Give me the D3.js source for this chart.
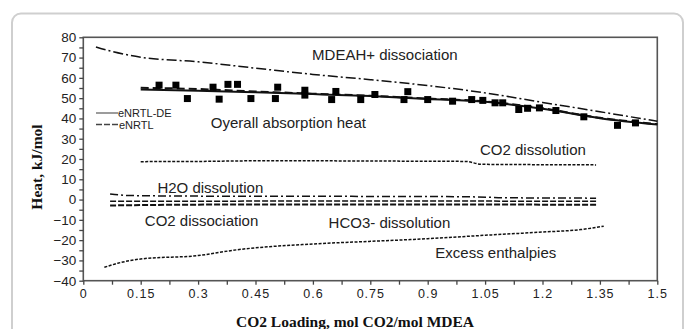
<!DOCTYPE html>
<html>
<head>
<meta charset="utf-8">
<script src="https://cdn.jsdelivr.net/npm/d3@7"></script>
<style>
  html, body { margin: 0; padding: 0; background: #fff; }
  svg { display: block; }
  .tick text { font-family: Arial, "Liberation Sans", sans-serif; fill: #222; }
  .note { font-family: Arial, "Liberation Sans", sans-serif; font-size: 15px; fill: #222; }
  .title { font-family: "Times New Roman", "Liberation Serif", serif; font-weight: bold; font-size: 15.5px; fill: #111; }
</style>
</head>
<body>
<svg id="chart" width="685" height="329"></svg>
<script>
// Axis ticks
const loadingTicks = [0, 0.15, 0.3, 0.45, 0.6, 0.75, 0.9, 1.05, 1.2, 1.35, 1.5];
const loadingTickLabels = ["0", "0.15", "0.3", "0.45", "0.6", "0.75", "0.9", "1.05", "1.2", "1.35", "1.5"];
const heatTicks = [-40, -30, -20, -10, 0, 10, 20, 30, 40, 50, 60, 70, 80];

// Experimental overall heat of absorption (squares)
const expLoading = [0.198, 0.242, 0.272, 0.339, 0.355, 0.378, 0.403, 0.438, 0.502, 0.508,
                    0.579, 0.579, 0.649, 0.660, 0.725, 0.762, 0.838, 0.848, 0.900, 0.965,
                    1.015, 1.044, 1.076, 1.096, 1.138, 1.161, 1.192, 1.235, 1.308, 1.396, 1.443];
const expHeat = [56.4, 56.4, 49.8, 55.4, 49.5, 56.8, 56.8, 49.8, 49.8, 55.4,
                 53.9, 51.5, 49.3, 53.3, 49.3, 51.8, 49.3, 53.2, 49.3, 48.5,
                 49.3, 48.9, 47.7, 47.7, 44.4, 45.0, 45.2, 43.9, 40.8, 36.6, 37.8];

// eNRTL-DE overall absorption heat (solid)
const deLoading = [0.15, 0.3, 0.45, 0.6, 0.75, 0.9, 1.05, 1.2, 1.35, 1.5];
const deHeat = [54.3, 53.7, 52.9, 52.0, 51.0, 49.6, 48.2, 44.8, 40.1, 37.0];

// eNRTL overall absorption heat (dashed)
const nrtlLoading = [0.15, 0.3, 0.45, 0.6, 0.75, 0.9, 1.05, 1.2, 1.35, 1.5];
const nrtlHeat = [55.1, 54.5, 53.3, 52.2, 51.2, 49.8, 48.4, 45.0, 40.3, 37.2];

// MDEAH+ dissociation
const mdeahLoading = [0.033, 0.075, 0.15, 0.3, 0.45, 0.6, 0.75, 0.9, 1.05, 1.2, 1.35, 1.5];
const mdeahHeat = [75.2, 73.0, 70.2, 67.9, 64.8, 61.7, 59.1, 56.2, 52.6, 47.9, 43.3, 38.6];

// CO2 dissolution
const co2DissolLoading = [0.15, 0.3, 0.45, 0.6, 0.75, 0.9, 1.0, 1.04, 1.2, 1.34];
const co2DissolHeat = [18.7, 18.8, 19.1, 19.1, 19.0, 18.9, 18.8, 17.4, 17.2, 17.1];

// H2O dissolution
const h2oLoading = [0.07, 0.12, 0.3, 0.6, 0.9, 1.03, 1.1, 1.34];
const h2oHeat = [2.8, 2.0, 1.7, 1.6, 1.5, 1.3, 0.9, 0.7];

// CO2 dissociation
const co2DissocLoading = [0.07, 0.3, 0.6, 0.9, 1.2, 1.34];
const co2DissocHeat = [-0.8, -0.8, -0.7, -0.7, -0.8, -0.8];

// HCO3- dissolution
const hco3Loading = [0.07, 0.3, 0.6, 0.9, 1.2, 1.34];
const hco3Heat = [-2.9, -2.5, -2.4, -2.4, -2.5, -2.6];

// Excess enthalpies
const excessLoading = [0.055, 0.09, 0.15, 0.3, 0.4, 0.6, 0.75, 0.9, 1.05, 1.2, 1.3, 1.36];
const excessHeat = [-33.4, -31.4, -29.3, -27.6, -24.8, -21.9, -20.6, -19.3, -17.6, -16.0, -14.8, -13.1];

const svg = d3.select("#chart");
const plot = { left: 83.3, right: 657.3, top: 37.3, bottom: 280.7 };

const x = d3.scaleLinear().domain([0, 1.5]).range([plot.left, plot.right]);
const y = d3.scaleLinear().domain([-40, 80]).range([plot.bottom, plot.top]);

// outer rounded frame
svg.append("rect")
  .attr("x", 12).attr("y", 13.5).attr("width", 671).attr("height", 340)
  .attr("rx", 9).attr("fill", "none").attr("stroke", "#cfcfcf").attr("stroke-width", 2);

// plot box
svg.append("rect")
  .attr("x", plot.left).attr("y", plot.top)
  .attr("width", plot.right - plot.left).attr("height", plot.bottom - plot.top)
  .attr("fill", "none").attr("stroke", "#555").attr("stroke-width", 1.6);

// y axis with minor ticks
const yMinor = d3.range(-35, 80, 10);
svg.append("g").attr("transform", `translate(${plot.left},0)`)
  .call(d3.axisLeft(y).tickValues(yMinor).tickSize(4).tickFormat(""))
  .call(g => g.select(".domain").remove())
  .call(g => g.selectAll("line").attr("stroke", "#444").attr("stroke-width", 1.3));
svg.append("g").attr("transform", `translate(${plot.left},0)`)
  .call(d3.axisLeft(y).tickValues(heatTicks).tickSize(4).tickPadding(3).tickFormat(d3.format("d")))
  .call(g => g.select(".domain").remove())
  .call(g => g.selectAll("line").attr("stroke", "#444").attr("stroke-width", 1.3))
  .call(g => g.selectAll("text").style("font-size", "13.5px"));

// x axis with minor ticks
const xMinor = d3.range(0.075, 1.5, 0.15);
svg.append("g").attr("transform", `translate(0,${plot.bottom})`)
  .call(d3.axisBottom(x).tickValues(xMinor).tickSize(4).tickFormat(""))
  .call(g => g.select(".domain").remove())
  .call(g => g.selectAll("line").attr("stroke", "#444").attr("stroke-width", 1.3));
svg.append("g").attr("transform", `translate(0,${plot.bottom})`)
  .call(d3.axisBottom(x).tickValues(loadingTicks).tickSize(4).tickPadding(4)
        .tickFormat((d, i) => loadingTickLabels[i]))
  .call(g => g.select(".domain").remove())
  .call(g => g.selectAll("line").attr("stroke", "#444").attr("stroke-width", 1.3))
  .call(g => g.selectAll("text").style("font-size", "12.5px").style("letter-spacing", "1px"));

// axis titles
svg.append("text").attr("class", "title")
  .attr("x", 355).attr("y", 327).attr("text-anchor", "middle")
  .text("CO2 Loading, mol CO2/mol MDEA");
svg.append("text").attr("class", "title")
  .attr("transform", "translate(42,167) rotate(-90)").attr("text-anchor", "middle")
  .text("Heat, kJ/mol");

// curves
const line = (xs, ys) => d3.line().curve(d3.curveMonotoneX)
  .x(i => x(xs[i])).y(i => y(ys[i]))(d3.range(xs.length));

const curves = [
  { xs: mdeahLoading, ys: mdeahHeat, dash: "10,3,2,3", w: 1.5 },
  { xs: co2DissolLoading, ys: co2DissolHeat, dash: "3,1.5", w: 1.5 },
  { xs: h2oLoading, ys: h2oHeat, dash: "8,3,2,3", w: 1.5 },
  { xs: co2DissocLoading, ys: co2DissocHeat, dash: "6,2", w: 1.5 },
  { xs: hco3Loading, ys: hco3Heat, dash: "6,2", w: 2 },
  { xs: excessLoading, ys: excessHeat, dash: "3,1.5", w: 1.5 },
  { xs: nrtlLoading, ys: nrtlHeat, dash: "8,4", w: 2 },
  { xs: deLoading, ys: deHeat, dash: null, w: 2 }
];
svg.append("g").selectAll("path").data(curves).join("path")
  .attr("d", c => line(c.xs, c.ys))
  .attr("fill", "none").attr("stroke", "#111")
  .attr("stroke-width", c => c.w)
  .attr("stroke-dasharray", c => c.dash);

// experimental points
const sq = 7;
svg.append("g").selectAll("rect").data(d3.range(expLoading.length)).join("rect")
  .attr("x", i => x(expLoading[i]) - sq / 2)
  .attr("y", i => y(expHeat[i]) - sq / 2)
  .attr("width", sq).attr("height", sq).attr("fill", "#000");

// curve annotations (baseline positions in data units)
const notes = [
  { t: "MDEAH+ dissociation", lx: 0.788, ly: 68.8 },
  { t: "Oyerall absorption heat", lx: 0.536, ly: 35.2 },
  { t: "CO2 dissolution", lx: 1.175, ly: 22.0 },
  { t: "H2O dissolution", lx: 0.332, ly: 3.4 },
  { t: "CO2 dissociation", lx: 0.309, ly: -13.0 },
  { t: "HCO3- dissolution", lx: 0.800, ly: -14.0 },
  { t: "Excess enthalpies", lx: 1.078, ly: -29.0 }
];
svg.append("g").selectAll("text").data(notes).join("text")
  .attr("class", "note")
  .attr("x", d => x(d.lx)).attr("y", d => y(d.ly))
  .attr("text-anchor", "middle")
  .text(d => d.t);

// legend
const legend = svg.append("g").attr("transform", "translate(96,113)");
legend.append("line").attr("x1", 0).attr("x2", 22).attr("y1", 0).attr("y2", 0)
  .attr("stroke", "#666").attr("stroke-width", 1.3);
legend.append("line").attr("x1", 0).attr("x2", 22).attr("y1", 11.5).attr("y2", 11.5)
  .attr("stroke", "#444").attr("stroke-width", 1.3).attr("stroke-dasharray", "6,2");
legend.append("text").attr("x", 22).attr("y", 4)
  .style("font-family", "Arial, 'Liberation Sans', sans-serif").style("font-size", "11px").attr("fill", "#222")
  .text("eNRTL-DE");
legend.append("text").attr("x", 23).attr("y", 15.5)
  .style("font-family", "Arial, 'Liberation Sans', sans-serif").style("font-size", "11px").attr("fill", "#222")
  .text("eNRTL");
</script>
</body>
</html>
